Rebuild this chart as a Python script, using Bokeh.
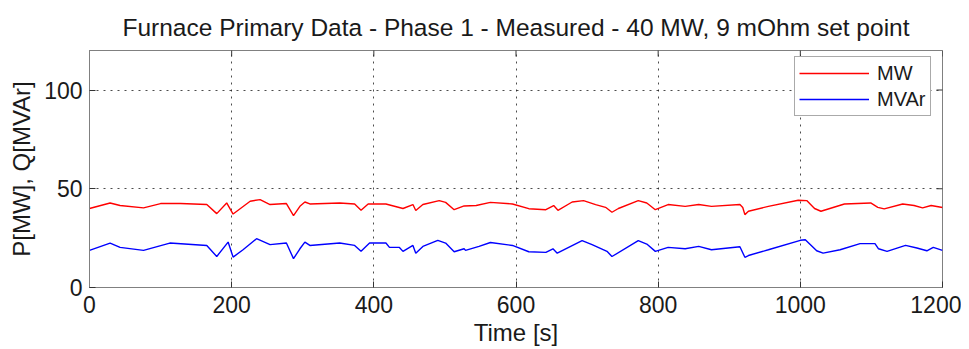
import math
from bokeh.plotting import figure
from bokeh.models import Range1d, FixedTicker
from bokeh.embed import file_html
from bokeh.resources import INLINE

# ---- data ----
x_ticks = [0, 200, 400, 600, 800, 1000, 1200]
y_ticks = [0, 50, 100]
x_limits = (0, 1200)
y_limits = (0, 120)

mw_time = [0, 29, 43, 76, 100, 128, 165, 179, 193, 202, 226, 240, 254, 277, 287, 296,
           303, 310, 352, 373, 382, 392, 417, 441, 455, 459, 469, 492, 501, 513, 527,
           544, 564, 595, 618, 642, 653, 659, 679, 695, 712, 726, 735, 744, 772, 784,
           796, 814, 838, 857, 875, 915, 919, 922, 927, 955, 997, 1009, 1020, 1029,
           1062, 1099, 1109, 1118, 1144, 1160, 1172, 1184, 1200]
mw_values = [40.0, 42.8, 41.5, 40.3, 42.5, 42.5, 42.0, 37.4, 42.8, 37.2, 43.7, 44.5, 42.0,
             42.5, 36.4, 41.1, 43.3, 42.3, 42.8, 42.3, 39.1, 42.3, 42.3, 40.0, 42.0, 39.0,
             42.0, 44.0, 43.1, 39.4, 41.3, 41.5, 43.1, 42.3, 39.9, 39.4, 41.5, 39.1, 43.3,
             44.0, 42.0, 40.6, 38.1, 40.0, 44.0, 42.8, 39.4, 42.0, 41.1, 42.0, 41.1, 42.0,
             40.5, 36.9, 38.6, 41.1, 44.2, 44.0, 40.0, 38.6, 42.3, 42.8, 40.6, 39.8, 42.3,
             41.5, 40.3, 41.5, 40.5]

mvar_time = [0, 29, 43, 76, 113, 165, 179, 195, 202, 216, 235, 254, 277, 287, 296, 303,
             310, 352, 373, 382, 394, 417, 422, 436, 441, 455, 459, 469, 490, 501, 513,
             527, 529, 548, 564, 595, 618, 642, 652, 658, 693, 707, 728, 735, 772, 784,
             796, 814, 838, 857, 875, 915, 922, 927, 955, 1000, 1007, 1023, 1032, 1056,
             1084, 1105, 1110, 1122, 1148, 1164, 1178, 1187, 1200]
mvar_values = [18.8, 22.5, 20.3, 18.8, 22.5, 21.3, 15.7, 23.0, 15.4, 19.1, 24.7, 21.7, 22.5,
               14.6, 19.6, 23.0, 21.3, 22.5, 21.3, 18.3, 22.5, 22.5, 20.3, 20.3, 18.3, 21.3,
               17.4, 20.8, 23.9, 22.5, 18.1, 19.6, 18.8, 20.8, 22.8, 21.3, 18.1, 17.8, 19.6,
               17.4, 23.7, 21.7, 18.3, 15.7, 23.7, 22.0, 18.3, 20.3, 19.6, 20.8, 19.1, 20.6,
               15.3, 16.2, 19.1, 23.9, 24.2, 18.6, 17.4, 19.1, 22.2, 22.2, 19.6, 18.3, 21.3,
               20.0, 18.6, 20.3, 18.8]

title_text = "Furnace Primary Data - Phase 1 - Measured - 40 MW, 9 mOhm set point"
x_label = "Time [s]"
y_label = "P[MW], Q[MVAr]"

FONT = "Liberation Sans"
TXT = "#1a1a1a"
AX = "#808080"
TICK = "#333333"

p = figure(frame_width=853, frame_height=237, output_backend="svg", toolbar_location=None,
           x_range=Range1d(*x_limits), y_range=Range1d(*y_limits),
           min_border_left=89, min_border_right=19, min_border_top=50, min_border_bottom=10,
           background_fill_color="white", border_fill_color="white")

p.title.text = title_text
p.title.align = "center"
p.title.text_font = FONT
p.title.text_font_size = "24.5px"
p.title.text_font_style = "normal"
p.title.text_color = TXT
p.title.standoff = 20

p.outline_line_color = AX
p.outline_line_width = 1

for ax in (p.xaxis[0], p.yaxis[0]):
    ax.major_label_text_font = FONT
    ax.major_label_text_font_size = "23px"
    ax.major_label_text_color = TXT
    ax.axis_label_text_font = FONT
    ax.axis_label_text_font_size = "24px"
    ax.axis_label_text_font_style = "normal"
    ax.axis_label_text_color = TXT
    ax.axis_line_color = AX
    ax.major_tick_line_color = TICK
    ax.major_tick_in = 6
    ax.major_tick_out = 0
    ax.minor_tick_line_color = None

p.xaxis.ticker = FixedTicker(ticks=x_ticks)
p.yaxis.ticker = FixedTicker(ticks=y_ticks)
p.xaxis.axis_label = x_label
p.yaxis.axis_label = y_label
p.xaxis.major_label_standoff = 8
p.xaxis.axis_label_standoff = 3
p.yaxis.major_label_standoff = 7
p.yaxis.axis_label_standoff = 6

p.xgrid.ticker = FixedTicker(ticks=x_ticks)
p.ygrid.ticker = FixedTicker(ticks=y_ticks)
p.grid.grid_line_color = "#000000"
p.grid.grid_line_alpha = 0.7
p.grid.grid_line_dash = "2 5"
p.grid.grid_line_width = 1

# inward ticks on the top and right edges (clipped to the frame)
p.scatter(x=x_ticks, y=[y_limits[1]] * len(x_ticks), marker="dash", size=12,
          angle=math.pi / 2, line_color=TICK, line_width=1)
p.scatter(x=[x_limits[1]] * len(y_ticks), y=y_ticks, marker="dash", size=12,
          line_color=TICK, line_width=1)

p.line(mw_time, mw_values, line_color="#ff0000", line_width=1.4, legend_label="MW")
p.line(mvar_time, mvar_values, line_color="#0000ff", line_width=1.4, legend_label="MVAr")

lg = p.legend[0]
lg.location = (705, 171)
lg.label_text_font = FONT
lg.label_text_font_size = "20px"
lg.label_text_color = TXT
lg.border_line_color = "#555555"
lg.border_line_width = 1
lg.background_fill_color = "white"
lg.background_fill_alpha = 1
lg.padding = 4
lg.spacing = 2
lg.margin = 0
lg.glyph_width = 70
lg.glyph_height = 24
lg.label_height = 24
lg.label_standoff = 8

open("out.html", "w").write(file_html(p, INLINE))
